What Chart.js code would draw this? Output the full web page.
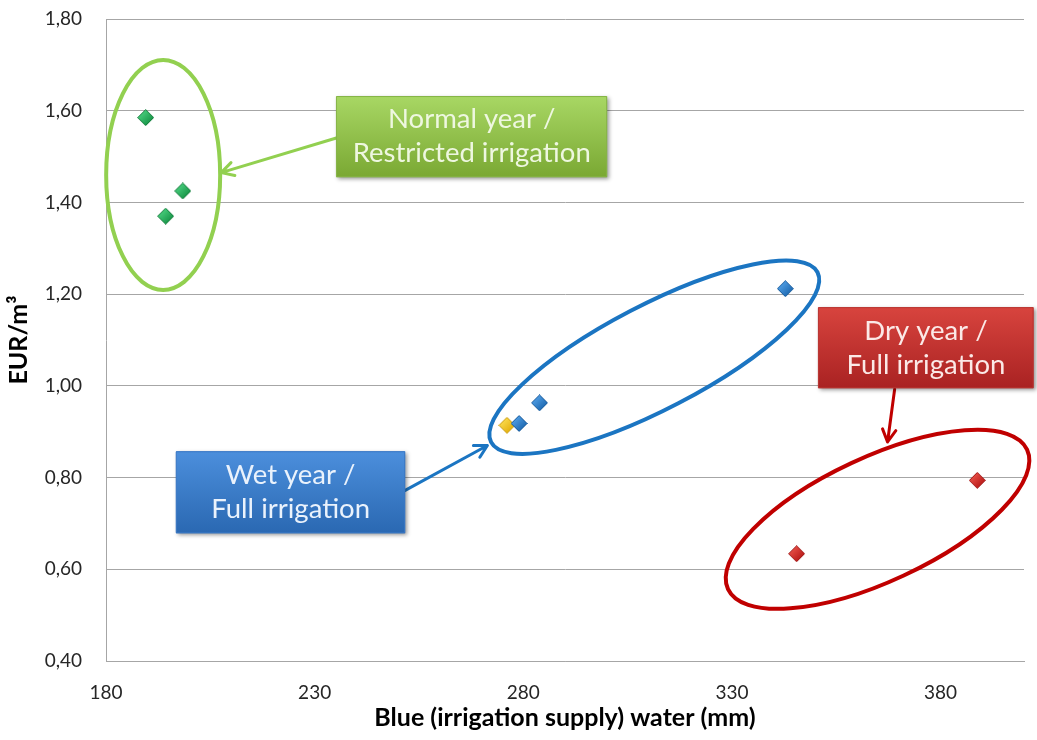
<!DOCTYPE html>
<html>
<head>
<meta charset="utf-8">
<script src="https://cdn.jsdelivr.net/npm/chart.js@4/dist/chart.umd.min.js"></script>
<style>
  html, body { margin: 0; padding: 0; background: #fff; }
</style>
</head>
<body>
<canvas id="chart" width="1037" height="740"></canvas>
<script>
// Irrigation water productivity per season type
const normalX = [189.5, 198.4, 194.3];
const normalY = [1.585, 1.425, 1.37];
const wetX = [342.8, 283.9, 279.0];
const wetY = [1.212, 0.963, 0.918];
const wetOtherX = [276.1];
const wetOtherY = [0.914];
const dryX = [388.8, 345.5];
const dryY = [0.794, 0.634];

const xTicks = [180, 230, 280, 330, 380];
const yTicks = [0.4, 0.6, 0.8, 1.0, 1.2, 1.4, 1.6, 1.8];

const toPoints = (xs, ys) => xs.map((x, i) => ({ x: x, y: ys[i] }));

// small shaded diamond used as marker
function diamond(light, dark, edge) {
  const s = 17;
  const cv = document.createElement('canvas');
  cv.width = cv.height = s;
  const g = cv.getContext('2d');
  const grd = g.createLinearGradient(2, 2, 15, 15);
  grd.addColorStop(0, light);
  grd.addColorStop(1, dark);
  g.beginPath();
  g.moveTo(8.5, 0.5); g.lineTo(16.5, 8.5); g.lineTo(8.5, 16.5); g.lineTo(0.5, 8.5);
  g.closePath();
  g.fillStyle = grd; g.fill();
  g.strokeStyle = edge; g.lineWidth = 1; g.stroke();
  return cv;
}

// ellipses around the groups (center in data units, radii in px)
const rings = [
  { cx: 193.7, cy: 1.46, rx: 57, ry: 115, rot: 0, color: '#92d050' },
  { cx: 311.4, cy: 1.0625, rx: 184, ry: 52, rot: -27.5, color: '#1b75c2' },
  { cx: 364.9, cy: 0.709, rx: 165, ry: 62, rot: -25, color: '#c00000' }
];

// labelled boxes with arrows pointing at the rings
const callouts = [
  { lines: ['Normal year /', 'Restricted irrigation'], box: [235.2, 1.632, 300.1, 1.455],
    arrow: [235.4, 1.541, 207.6, 1.465], top: '#a8d764', bottom: '#7aa833', edge: '#86b447',
    text: '#eef7e0', line: '#92d050' },
  { lines: ['Wet year /', 'Full irrigation'], box: [196.8, 0.8574, 251.7, 0.6785],
    arrow: [251.7, 0.772, 271.4, 0.870], top: '#4c8fdc', bottom: '#2a68b2', edge: '#3a78c4',
    text: '#eaf2fc', line: '#1b75c2' },
  { lines: ['Dry year /', 'Full irrigation'], box: [350.7, 1.1716, 402.3, 0.9948],
    arrow: [369.0, 0.9927, 367.3, 0.8777], top: '#d8443e', bottom: '#a92222', edge: '#b83330',
    text: '#fbe9e7', line: '#c00000' }
];

const annotations = {
  id: 'annotations',
  afterDraw(chart) {
    const { ctx, scales: { x, y } } = chart;
    ctx.save();

    rings.forEach(r => {
      ctx.beginPath();
      ctx.ellipse(x.getPixelForValue(r.cx), y.getPixelForValue(r.cy), r.rx, r.ry,
        r.rot * Math.PI / 180, 0, Math.PI * 2);
      ctx.strokeStyle = r.color;
      ctx.lineWidth = 4;
      ctx.stroke();
    });

    callouts.forEach(c => {
      // arrow
      const ax1 = x.getPixelForValue(c.arrow[0]), ay1 = y.getPixelForValue(c.arrow[1]);
      const ax2 = x.getPixelForValue(c.arrow[2]), ay2 = y.getPixelForValue(c.arrow[3]);
      const ang = Math.atan2(ay2 - ay1, ax2 - ax1);
      ctx.strokeStyle = c.line;
      ctx.lineWidth = 3;
      ctx.lineCap = 'round';
      ctx.lineJoin = 'round';
      ctx.beginPath();
      ctx.moveTo(ax1, ay1); ctx.lineTo(ax2, ay2);
      ctx.moveTo(ax2 - 14 * Math.cos(ang - 0.5), ay2 - 14 * Math.sin(ang - 0.5));
      ctx.lineTo(ax2, ay2);
      ctx.lineTo(ax2 - 14 * Math.cos(ang + 0.5), ay2 - 14 * Math.sin(ang + 0.5));
      ctx.stroke();

      // box
      const bx1 = x.getPixelForValue(c.box[0]), by1 = y.getPixelForValue(c.box[1]);
      const bx2 = x.getPixelForValue(c.box[2]), by2 = y.getPixelForValue(c.box[3]);
      const grd = ctx.createLinearGradient(0, by1, 0, by2);
      grd.addColorStop(0, c.top);
      grd.addColorStop(1, c.bottom);
      ctx.save();
      ctx.shadowColor = 'rgba(0,0,0,0.4)';
      ctx.shadowBlur = 4;
      ctx.shadowOffsetX = 2;
      ctx.shadowOffsetY = 2;
      ctx.fillStyle = grd;
      ctx.fillRect(bx1, by1, bx2 - bx1, by2 - by1);
      ctx.restore();
      ctx.strokeStyle = c.edge;
      ctx.lineWidth = 1;
      ctx.strokeRect(bx1 + 0.5, by1 + 0.5, bx2 - bx1 - 1, by2 - by1 - 1);

      ctx.fillStyle = c.text;
      ctx.font = '27.5px Lato';
      ctx.textAlign = 'center';
      ctx.textBaseline = 'middle';
      const mx = (bx1 + bx2) / 2, my = (by1 + by2) / 2;
      ctx.fillText(c.lines[0], mx, my - 17);
      ctx.fillText(c.lines[1], mx, my + 17);
    });
    ctx.restore();
  }
};

const tickFont = { family: 'Lato', size: 19 };
const titleFont = { family: 'Lato', size: 25, weight: 'bold' };
const gridGray = '#a6a6a6';

new Chart(document.getElementById('chart'), {
  type: 'scatter',
  data: {
    datasets: [
      { label: 'Normal year / Restricted irrigation', data: toPoints(normalX, normalY),
        pointStyle: diamond('#52d987', '#0f8a3e', '#127a3a') },
      { label: 'Wet year / Full irrigation', data: toPoints(wetX, wetY),
        pointStyle: diamond('#5aa8ee', '#1560a8', '#1a5c9c') },
      { label: 'Wet year / Full irrigation (2)', data: toPoints(wetOtherX, wetOtherY),
        pointStyle: diamond('#ffe35a', '#e0a800', '#c89a10') },
      { label: 'Dry year / Full irrigation', data: toPoints(dryX, dryY),
        pointStyle: diamond('#f05a50', '#b01010', '#a01818') }
    ]
  },
  options: {
    responsive: false,
    animation: false,
    layout: { padding: { top: 19, right: 13, left: 0, bottom: 0 } },
    plugins: { legend: { display: false }, tooltip: { enabled: false } },
    scales: {
      x: {
        type: 'linear', min: 180, max: 400,
        afterBuildTicks: s => { s.ticks = xTicks.map(v => ({ value: v })); },
        afterFit: s => { s.height = 79; },
        grid: { display: false },
        border: { display: true, color: gridGray, width: 1 },
        ticks: { font: tickFont, color: '#262626', padding: 12, maxRotation: 0 },
        title: { display: true, text: 'Blue (irrigation supply) water (mm)', font: titleFont,
          color: '#000', padding: { top: 0, bottom: 7 } }
      },
      y: {
        type: 'linear', min: 0.4, max: 1.8,
        afterBuildTicks: s => { s.ticks = yTicks.map(v => ({ value: v })); },
        afterFit: s => { s.width = 106; },
        // invisible tick marks keep the labels away from the axis
        grid: { color: gridGray, lineWidth: 1, drawTicks: true, tickLength: 24, tickColor: 'transparent' },
        border: { display: true, color: gridGray, width: 1 },
        ticks: { font: tickFont, color: '#262626', padding: 0,
          callback: v => v.toFixed(2).replace('.', ',') },
        title: { display: true, text: 'EUR/m³', font: titleFont, color: '#000',
          padding: { top: 4, bottom: 0 } }
      }
    }
  },
  plugins: [annotations]
});
</script>
</body>
</html>
